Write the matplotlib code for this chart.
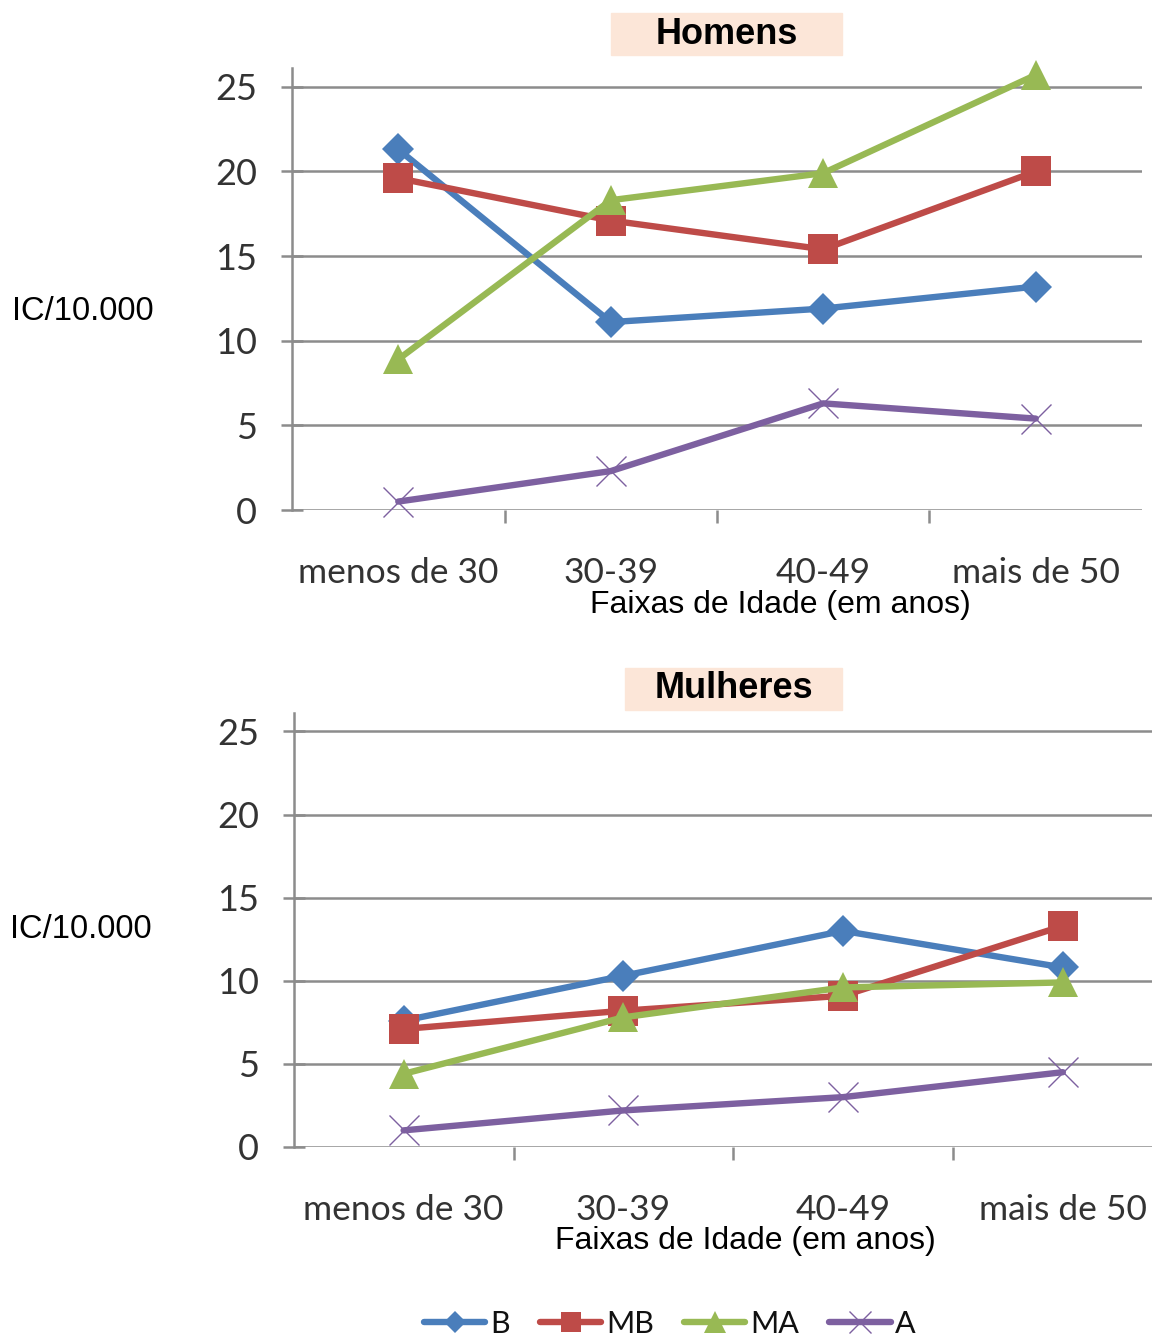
import matplotlib
matplotlib.use("Agg")
import matplotlib.pyplot as plt
import numpy as np

categorias = ["menos de 30", "30-39", "40-49", "mais de 50"]
series = ["B", "MB", "MA", "A"]

# Homens
homens_b = [21.3, 11.1, 11.9, 13.2]
homens_mb = [19.6, 17.1, 15.4, 20.0]
homens_ma = [8.9, 18.3, 19.9, 25.7]
homens_a = [0.5, 2.3, 6.3, 5.4]

# Mulheres
mulheres_b = [7.6, 10.3, 13.0, 10.8]
mulheres_mb = [7.1, 8.2, 9.1, 13.3]
mulheres_ma = [4.4, 7.8, 9.6, 9.9]
mulheres_a = [1.0, 2.2, 3.0, 4.5]

cores = ["#4A7EBB", "#BE4B48", "#98B954", "#7D60A0"]
marcadores = ["D", "s", "^", "x"]
tam_marc = [16, 21, 22, 22]

tick_font = "Lato"
arial = "Liberation Sans"
grid_cor = "#8C8C8C"


def desenha(ax, valores):
    x = np.arange(len(categorias))
    linhas = []
    for vals, cor, mk, ms, nome in zip(valores, cores, marcadores, tam_marc, series):
        kw = dict(color=cor, lw=4.6, marker=mk, markersize=ms, label=nome,
                  solid_capstyle="round", zorder=3, clip_on=False)
        if mk == "x":
            kw.update(markeredgewidth=1.0)
        else:
            kw.update(markeredgewidth=0)
        l, = ax.plot(x, vals, **kw)
        linhas.append(l)
    ax.set_xlim(-0.5, 3.5)
    ax.set_ylim(0, 26.1)
    ax.set_yticks([0, 5, 10, 15, 20, 25])
    ax.grid(axis="y", color=grid_cor, lw=1.8)
    ax.set_axisbelow(True)
    for s in ["top", "right", "bottom"]:
        ax.spines[s].set_visible(False)
    ax.spines["left"].set_color(grid_cor)
    ax.spines["left"].set_linewidth(1.8)
    ax.set_xticks(x)
    ax.set_xticklabels(categorias, fontfamily=tick_font, fontsize=25.5, color="#333333")
    ax.set_xticks([0.5, 1.5, 2.5], minor=True)
    ax.tick_params(axis="x", which="major", length=0, pad=34)
    ax.tick_params(axis="x", which="minor", length=9, width=1.8, color=grid_cor, direction="out")
    ax.tick_params(axis="y", length=16, width=1.8, color=grid_cor, direction="inout", pad=17)
    for t in ax.get_yticklabels():
        t.set_fontfamily(tick_font)
        t.set_fontsize(26)
        t.set_color("#333333")
    return linhas


fig = plt.figure(figsize=(11.52, 13.39), dpi=100)
ax1 = fig.add_axes([0.2535, 0.6191, 0.7378, 0.330])
ax2 = fig.add_axes([0.2550, 0.1434, 0.7630, 0.324])

linhas = desenha(ax1, [homens_b, homens_mb, homens_ma, homens_a])
desenha(ax2, [mulheres_b, mulheres_mb, mulheres_ma, mulheres_a])

H = 1339.0
W = 1152.0

# titles with peach boxes
for txt, (x0, y0, x1, y1) in [("Homens", (611, 13, 842, 55)), ("Mulheres", (625, 668, 842, 710))]:
    fig.patches.append(plt.Rectangle((x0 / W, 1 - y1 / H), (x1 - x0) / W, (y1 - y0) / H,
                                     transform=fig.transFigure, color="#FCE6D8", zorder=0))
    fig.text((x0 + x1) / 2 / W, 1 - (y0 + y1) / 2 / H, txt, ha="center", va="center",
             fontfamily=arial, fontsize=26, fontweight="bold")

fig.text(12 / W, 1 - 312 / H, "IC/10.000", ha="left", va="center", fontfamily=arial, fontsize=23.5)
fig.text(10 / W, 1 - 929 / H, "IC/10.000", ha="left", va="center", fontfamily=arial, fontsize=23.5)
fig.text(780 / W, 1 - 605 / H, "Faixas de Idade (em anos)", ha="center", va="center",
         fontfamily=arial, fontsize=23)
fig.text(745 / W, 1 - 1241 / H, "Faixas de Idade (em anos)", ha="center", va="center",
         fontfamily=arial, fontsize=23)

leg = fig.legend(handles=linhas, loc="center", bbox_to_anchor=(670 / W, 1 - 1324 / H), ncol=4,
                 frameon=False, handlelength=2.0, handletextpad=0.15, columnspacing=1.0,
                 markerscale=0.7, prop={"family": tick_font, "size": 22})
for t in leg.get_texts():
    t.set_color("#111111")

fig.savefig("out.png", dpi=100)
